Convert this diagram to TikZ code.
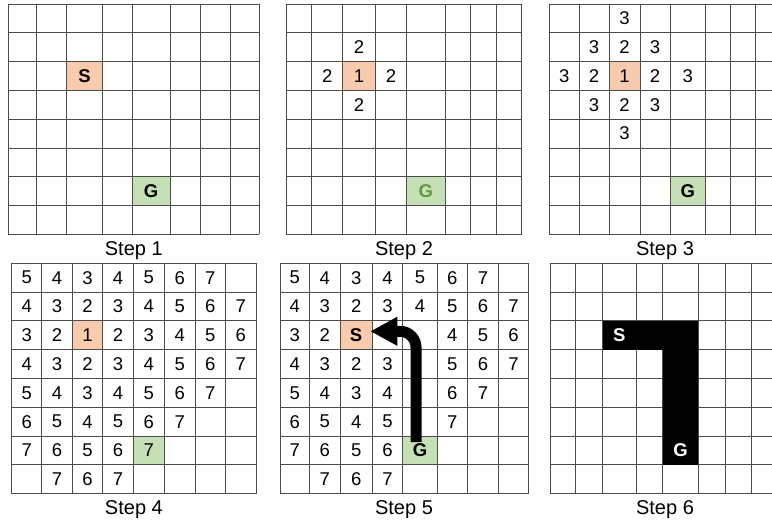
\documentclass[tikz,border=0pt]{standalone}
\usepackage{fontspec}
\setmainfont{Liberation Sans}
\usetikzlibrary{arrows.meta}
\usepackage{xcolor}
\definecolor{startfill}{HTML}{F8CBAD}
\definecolor{goalfill}{HTML}{C5E0B4}
\definecolor{goaltext}{HTML}{5E9C3E}
\tikzset{
  gridline/.style  = {draw = black!70, line width = 1pt},
  cellbox/.style   = {inner sep = 0pt, outer sep = 0pt, minimum height = 28.8pt,
                      font = \fontsize{18.5}{18.5}\selectfont},
  letter/.style    = {font = \fontsize{18.5}{18.5}\selectfont\bfseries},
  startcell/.style = {fill = startfill},
  goalcell/.style  = {fill = goalfill},
  caption/.style   = {anchor = base, font = \fontsize{20}{24}\selectfont},
  patharrow/.style = {line width = 11pt, rounded corners = 16pt,
                      -{Triangle[length=27pt,width=27pt]}}
}
% column lines of the six grids (pixels)
\def\colsA{{8.3,36.7,66.7,102.3,132.3,170,200,230,259.3}}
\def\colsB{{286,311.7,342.7,375.3,406.7,445,470.7,496.7,521.7}}
\def\colsC{{549.3,579,609,640,670,705.7,730,755.7,785}}
\def\colsD{{11.7,41.7,72.3,102.7,133.3,164.3,195,225.7,256}}
\def\colsE{{280,309.3,340,372.3,402.7,437.3,467.3,498.7,528.3}}
\def\colsF{{550,575.7,602.7,636,662.7,698.3,725,751.7,780}}
% one cell: [options] name, columns, top, column, row, text
\newcommand{\gridcell}[7][]{%
  \pgfmathsetmacro\colL{#3[#5]}%
  \pgfmathsetmacro\colR{#3[#5+1]}%
  \pgfmathsetmacro\colW{\colR-\colL}%
  \node[cellbox, minimum width = \colW pt, #1] (#2)
    at ({(\colL+\colR)/2},{#4+28.8*(#6+0.5)}) {#7};
}
% the 8x8 lines: columns, top
\newcommand{\gridlines}[2]{%
  \pgfmathsetmacro\gl{#1[0]}%
  \pgfmathsetmacro\gr{#1[8]}%
  \foreach \k in {0,...,8}{
    \pgfmathsetmacro\gx{#1[\k]}
    \draw[gridline] (\gx,#2) -- (\gx,#2+230.4);
    \draw[gridline] (\gl,#2+28.8*\k) -- (\gr,#2+28.8*\k);
  }
}

\begin{document}
\begin{tikzpicture}[x=1pt, y=-1pt]
\clip (0,0) rectangle (772,522);
\fill[white] (0,0) rectangle (772,522);

% Step 1
\gridcell[startcell,letter]{Sone}{\colsA}{4}{2}{2}{S}
\gridcell[goalcell,letter]{Gone}{\colsA}{4}{4}{6}{G}
\gridlines{\colsA}{4}
\node[caption] (step1) at (133.8,255.3) {Step 1};

% Step 2
\gridcell[startcell]{Stwo}{\colsB}{4}{2}{2}{1}
\gridcell[goalcell,letter,text=goaltext]{Gtwo}{\colsB}{4}{4}{6}{G}
\gridcell{b1-2}{\colsB}{4}{2}{1}{2}
\gridcell{b2-1}{\colsB}{4}{1}{2}{2}
\gridcell{b2-3}{\colsB}{4}{3}{2}{2}
\gridcell{b3-2}{\colsB}{4}{2}{3}{2}
\gridlines{\colsB}{4}
\node[caption] (step2) at (404,255.3) {Step 2};

% Step 3
\gridcell[startcell]{Sthree}{\colsC}{4}{2}{2}{1}
\gridcell[goalcell,letter]{Gthree}{\colsC}{4}{4}{6}{G}
\foreach \c/\r/\v in {2/0/3, 1/1/3, 2/1/2, 3/1/3, 0/2/3, 1/2/2, 3/2/2, 4/2/3,
                      1/3/3, 2/3/2, 3/3/3, 2/4/3}{
  \gridcell{c\r-\c}{\colsC}{4}{\c}{\r}{\v}
}
\gridlines{\colsC}{4}
\node[caption] (step3) at (665,255.3) {Step 3};

% Step 4
\gridcell[startcell]{Sfour}{\colsD}{263.3}{2}{2}{}
\gridcell[goalcell]{Gfour}{\colsD}{263.3}{4}{6}{}
\foreach \vals [count=\r from 0] in {
    {5,4,3,4,5,6,7,{}},
    {4,3,2,3,4,5,6,7},
    {3,2,1,2,3,4,5,6},
    {4,3,2,3,4,5,6,7},
    {5,4,3,4,5,6,7,{}},
    {6,5,4,5,6,7,{},{}},
    {7,6,5,6,7,{},{},{}},
    {{},7,6,7,{},{},{},{}}}
  \foreach \v [count=\c from 0] in \vals
    \gridcell{d\r-\c}{\colsD}{263.3}{\c}{\r}{\v};
\gridlines{\colsD}{263.3}
\node[caption] (step4) at (133.9,514.3) {Step 4};

% Step 5
\gridcell[startcell,letter]{Sfive}{\colsE}{263.3}{2}{2}{S}
\gridcell[goalcell,letter]{Gfive}{\colsE}{263.3}{4}{6}{G}
\foreach \vals [count=\r from 0] in {
    {5,4,3,4,5,6,7,{}},
    {4,3,2,3,4,5,6,7},
    {3,2,{},{},{},4,5,6},
    {4,3,2,3,{},5,6,7},
    {5,4,3,4,{},6,7,{}},
    {6,5,4,5,{},7,{},{}},
    {7,6,5,6,{},{},{},{}},
    {{},7,6,7,{},{},{},{}}}
  \foreach \v [count=\c from 0] in \vals
    \gridcell{e\r-\c}{\colsE}{263.3}{\c}{\r}{\v};
\gridlines{\colsE}{263.3}
\draw[patharrow] ([xshift=-4pt,yshift=-6pt]Gfive.north)
  |- ([xshift=-2pt,yshift=4pt]Sfive.east);
\node[caption] (step5) at (404,514.3) {Step 5};

% Step 6
\gridlines{\colsF}{263.3}
\fill (602.7,263.3+28.8*2) rectangle (698.3,263.3+28.8*3);
\fill (662.7,263.3+28.8*2) rectangle (698.3,263.3+28.8*7);
\gridcell[letter,text=white]{Ssix}{\colsF}{263.3}{2}{2}{S}
\gridcell[letter,text=white]{Gsix}{\colsF}{263.3}{4}{6}{G}
\node[caption] (step6) at (665,514.3) {Step 6};

\end{tikzpicture}
\end{document}
